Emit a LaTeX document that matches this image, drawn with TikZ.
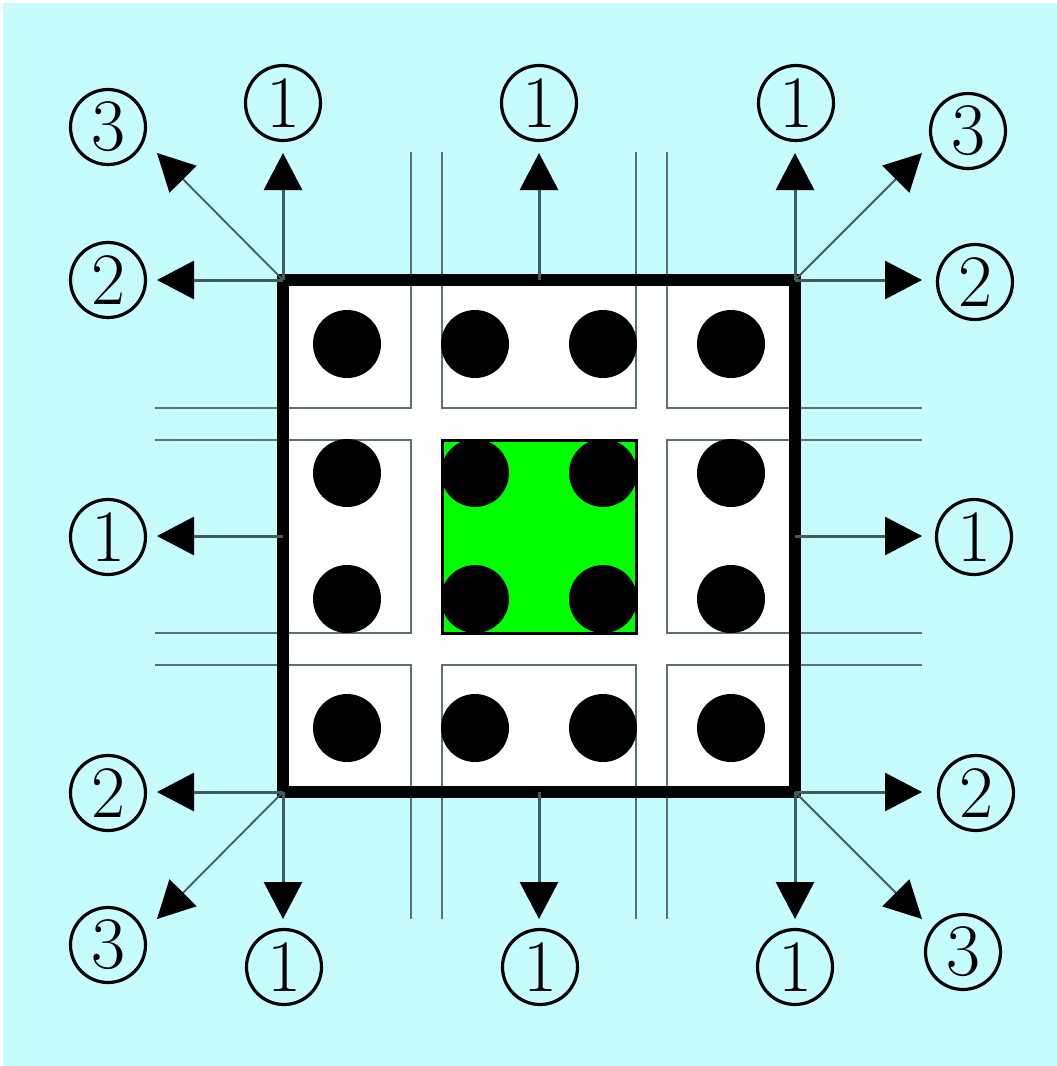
\documentclass[tikz,border=0pt]{standalone}
\usetikzlibrary{arrows.meta}
\definecolor{bgc}{HTML}{C6FCFC}
\definecolor{linec}{HTML}{3E5E5E}
\definecolor{gridc}{HTML}{5E7070}
\definecolor{greenc}{HTML}{00FF00}
\begin{document}
\begin{tikzpicture}[x=1pt,y=-1pt,
  lbl/.style={circle,draw=black,line width=3.2pt,minimum size=75pt,inner sep=0pt,font=\fontsize{74}{74}\selectfont},
  arr/.style={draw=linec,line width=3pt,-{Triangle[length=37pt,width=38pt,color=black]}},
  diag/.style={arr,line width=1.8pt},
  gridln/.style={draw=gridc,line width=2.5pt},
  cell/.style={draw=gridc,line width=2.5pt,fill=white},
  dot/.style={fill=black},
  frame/.style={draw=black,line width=12pt}]
\useasboundingbox (0,0) rectangle (1057,1066);
\fill[bgc] (3,3) rectangle (1057,1066);
% grid extension lines
\foreach \x in {411,442,636,667}{
  \draw[gridln] (\x,152) -- (\x,280);
  \draw[gridln] (\x,792) -- (\x,919);
}
\foreach \y in {408,440,633,665}{
  \draw[gridln] (155,\y) -- (283,\y);
  \draw[gridln] (795,\y) -- (922,\y);
}
% inside
\fill[white] (283,280) rectangle (795,792);
\foreach \xa/\xb in {283/411,442/636,667/795}{
  \foreach \ya/\yb in {280/408,440/633,665/792}{
    \draw[cell] (\xa,\ya) rectangle (\xb,\yb);
  }
}
\draw[draw=black,line width=3pt,fill=greenc] (442,440) rectangle (636,633);
% dots
\foreach \x in {347,475,603,731}{
  \foreach \y in {344,473,599,728}{
    \fill[dot] (\x,\y) circle[radius=34pt];
  }
}
% frame
\coordinate (TL) at (283,280);
\coordinate (TR) at (795,280);
\coordinate (BL) at (283,792);
\coordinate (BR) at (795,792);
\coordinate (TM) at (539,280);
\coordinate (BM) at (539,792);
\coordinate (LM) at (283,536);
\coordinate (RM) at (795,536);
\draw[frame] (TL) rectangle (BR);
% tips
\coordinate (tTLu) at (283,153);
\coordinate (tTLl) at (157,280);
\coordinate (tTLd) at (157,153);
\coordinate (tTRu) at (795,153);
\coordinate (tTRr) at (922,280);
\coordinate (tTRd) at (922,153);
\coordinate (tBLd) at (283,919);
\coordinate (tBLl) at (157,792);
\coordinate (tBLdg) at (157,919);
\coordinate (tBRd) at (795,919);
\coordinate (tBRr) at (922,792);
\coordinate (tBRdg) at (922,919);
\coordinate (tTM) at (539,153);
\coordinate (tBM) at (539,919);
\coordinate (tLM) at (157,536);
\coordinate (tRM) at (922,536);
% arrows
\draw[arr] (TL) -- (tTLu);
\draw[arr] (TL) -- (tTLl);
\draw[diag] (TL) -- (tTLd);
\draw[arr] (TR) -- (tTRu);
\draw[arr] (TR) -- (tTRr);
\draw[diag] (TR) -- (tTRd);
\draw[arr] (BL) -- (tBLd);
\draw[arr] (BL) -- (tBLl);
\draw[diag] (BL) -- (tBLdg);
\draw[arr] (BR) -- (tBRd);
\draw[arr] (BR) -- (tBRr);
\draw[diag] (BR) -- (tBRdg);
\draw[arr] (TM) -- (tTM);
\draw[arr] (BM) -- (tBM);
\draw[arr] (LM) -- (tLM);
\draw[arr] (RM) -- (tRM);
% labels
\node[lbl] (l1a) at (283,103) {1};
\node[lbl] (l1b) at (539,103) {1};
\node[lbl] (l1c) at (796,103) {1};
\node[lbl] (l1d) at (284,967) {1};
\node[lbl] (l1e) at (540,967) {1};
\node[lbl] (l1f) at (795,967) {1};
\node[lbl] (l1g) at (108,537) {1};
\node[lbl] (l1h) at (974,537) {1};
\node[lbl] (l2a) at (108,280) {2};
\node[lbl] (l2b) at (975,282) {2};
\node[lbl] (l2c) at (108,793) {2};
\node[lbl] (l2d) at (976,793) {2};
\node[lbl] (l3a) at (108,127) {3};
\node[lbl] (l3b) at (968,131) {3};
\node[lbl] (l3c) at (108,945) {3};
\node[lbl] (l3d) at (963,952) {3};
\end{tikzpicture}
\end{document}
